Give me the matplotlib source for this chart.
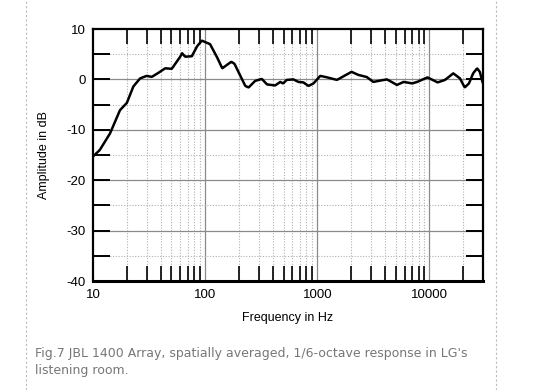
import matplotlib
matplotlib.use('Agg')
import matplotlib.pyplot as plt
import numpy as np
from matplotlib.lines import Line2D
from matplotlib.ticker import FixedLocator, NullFormatter

plt.rcParams['axes.unicode_minus'] = False

# frequency response (Hz, dB)
freq = [10, 11.5, 14.2, 17.4, 20.0, 22.9, 26.3, 30.1, 33.4, 37.1, 43.9, 50.4,
        59.9, 62.2, 66.3, 76.1, 84.3, 93.3, 100, 110.5, 127, 142, 171, 182.5,
        228, 244, 279, 320, 356, 421, 467, 495, 534, 612, 678, 752, 834, 923,
        1062, 1176, 1496, 2020, 2313, 2748, 3150, 3490, 4180, 5130, 5880, 7010,
        7770, 9590, 11800, 13760, 16300, 18700, 20600, 22500, 24500, 26600,
        28100, 29700]
amp = [-15.3, -14.0, -10.7, -6.1, -4.7, -1.4, 0.2, 0.7, 0.5, 1.1, 2.2, 2.1,
       4.5, 5.2, 4.5, 4.6, 6.5, 7.7, 7.4, 7.0, 4.5, 2.2, 3.5, 3.1,
       -1.3, -1.6, -0.3, 0.1, -1.0, -1.2, -0.5, -0.8, -0.1, 0.0, -0.5, -0.6, -1.3, -0.8,
       0.7, 0.5, -0.1, 1.5, 0.9, 0.5, -0.5, -0.3, 0.0, -1.1, -0.5, -0.8,
       -0.5, 0.4, -0.6, -0.1, 1.2, 0.2, -1.6, -0.8, 1.2, 2.2,
       1.5, -0.5]

x_major = [10, 100, 1000, 10000]
x_labels = ['10', '100', '1000', '10000']
y_major = [10, 0, -10, -20, -30, -40]

caption = "Fig.7 JBL 1400 Array, spatially averaged, 1/6-octave response in LG's\nlistening room."

fig = plt.figure(figsize=(5.36, 3.90), dpi=100)
ax = fig.add_axes([93/536, 1 - 281/390, 390/536, 252/390])

# resample the read points in log-frequency for the plotted line
lf = np.log10(freq)
fine = np.linspace(lf[0], lf[-1], 600)
curve = np.interp(fine, lf, amp)
ax.plot(10**fine, curve, color='black', lw=1.8, solid_joinstyle='round')

ax.set_xscale('log')
ax.set_xlim(10, 30000)
ax.set_ylim(-40, 10)

minor_x = [m * d for d in [10, 100, 1000, 10000] for m in range(2, 10) if m * d <= 30000]
ax.xaxis.set_major_locator(FixedLocator(x_major))
ax.xaxis.set_minor_locator(FixedLocator(minor_x))
ax.xaxis.set_minor_formatter(NullFormatter())
ax.set_xticklabels(x_labels)
ax.yaxis.set_major_locator(FixedLocator(y_major))
ax.yaxis.set_minor_locator(FixedLocator([5, -5, -15, -25, -35]))

# grid
for f in x_major[1:]:
    ax.axvline(f, color='#8a8a8a', lw=0.9, zorder=0)
for f in minor_x:
    ax.axvline(f, color='#b0b0b0', lw=0.8, ls=(0, (1, 1.5)), zorder=0)
for y in [0, -10, -20, -30]:
    ax.axhline(y, color='#8a8a8a', lw=0.9, zorder=0)
for y in [5, -5, -15, -25, -35]:
    ax.axhline(y, color='#b0b0b0', lw=0.8, ls=(0, (1, 1.5)), zorder=0)

ax.tick_params(axis='both', which='both', direction='in', color='black',
               labelsize=9.5, top=True, right=True)
ax.tick_params(axis='x', which='major', length=0, pad=6)
ax.tick_params(axis='x', which='minor', length=11, width=1.2)
ax.tick_params(axis='y', which='both', length=12, width=1.4, pad=5)
for lab in ax.get_xticklabels() + ax.get_yticklabels():
    lab.set_family('Liberation Sans')

for side in ['left', 'bottom', 'top', 'right']:
    ax.spines[side].set_linewidth(1.6)
ax.spines['bottom'].set_linewidth(2.2)

ax.set_xlabel('Frequency in Hz', family='Liberation Sans', fontsize=9, labelpad=8)
ax.set_ylabel('Amplitude in dB', family='Liberation Sans', fontsize=9, labelpad=12)

# page borders
for xp in [26, 496]:
    fig.add_artist(Line2D([xp/536, xp/536], [0, 1], color='#bbbbbb', lw=0.8,
                          ls=(0, (2, 2)), transform=fig.transFigure))

fig.text(35/536, 1 - 347/390, caption, color='#777777', fontsize=9,
         family='DejaVu Sans', va='top', linespacing=1.4)

fig.savefig('out.png', dpi=100)
